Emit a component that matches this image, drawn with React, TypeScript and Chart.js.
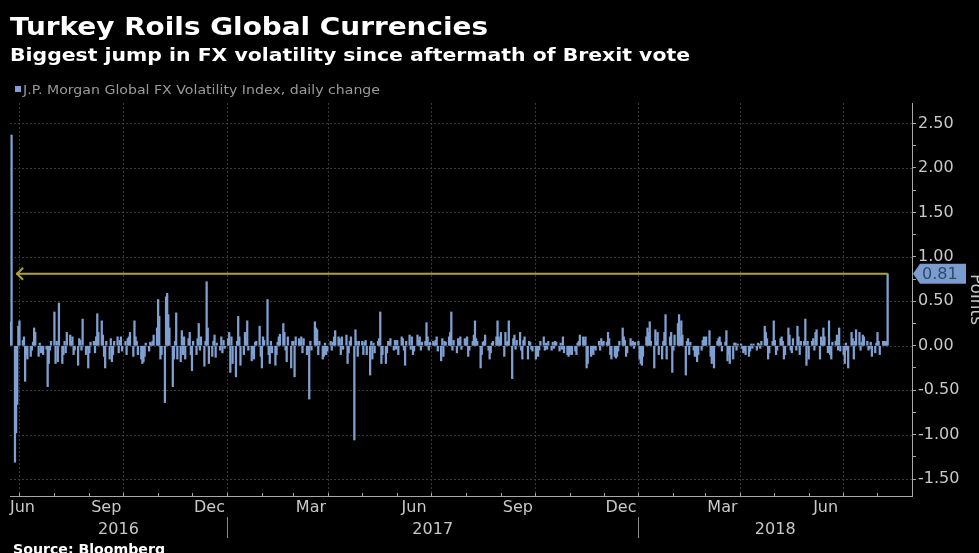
import React, { useEffect, useRef } from 'react';
import { Chart, registerables } from 'chart.js';

Chart.register(...registerables);

// ---------- text ----------
const TITLE = 'Turkey Roils Global Currencies';
const SUBTITLE = 'Biggest jump in FX volatility since aftermath of Brexit vote';
const LEGEND_LABEL = 'J.P. Morgan Global FX Volatility Index, daily change';
const SOURCE = 'Source: Bloomberg';
const Y_TITLE = 'Points';

// ---------- data: daily change, one array per month (weekdays in order) ----------
const SERIES_START = '2016-06-23';
const MONTHS = [
  '2016-06', '2016-07', '2016-08', '2016-09', '2016-10', '2016-11', '2016-12',
  '2017-01', '2017-02', '2017-03', '2017-04', '2017-05', '2017-06', '2017-07',
  '2017-08', '2017-09', '2017-10', '2017-11', '2017-12', '2018-01', '2018-02',
  '2018-03', '2018-04', '2018-05', '2018-06', '2018-07', '2018-08',
];
const jun16 = [0.27, 2.37, -1.31, -0.98, -0.66, 0.22];
const jul16 = [0.28, 0.06, 0.1, -0.4, -0.1, -0.15, -0.12, -0.05, 0.04, 0.2, 0.15, -0.12, 0.03, -0.08, -0.06, -0.1, -0.04, -0.46, -0.2, -0.05, 0.05];
const aug16 = [0.38, -0.2, 0.05, -0.18, 0.48, -0.2, -0.1, 0.05, -0.08, 0.15, 0.12, 0.05, 0.1, -0.1, -0.05, -0.22, 0.08, 0.06, -0.05, 0.3, -0.1, -0.03, -0.25];
const sep16 = [-0.08, 0.04, 0.05, -0.08, 0.1, 0.36, 0.15, 0.28, 0.12, -0.12, -0.25, 0.05, -0.15, 0.08, -0.18, -0.1, 0.05, 0.1, -0.08, 0.06, 0.1, -0.06];
const oct16 = [0.05, -0.1, 0.08, 0.1, 0.15, -0.12, 0.28, 0.1, 0.05, -0.1, -0.15, -0.2, -0.18, -0.12, 0.03, -0.06, 0.04, 0.02, 0.05, 0.12, 0.2];
const nov16 = [0.52, 0.33, -0.15, -0.1, -0.64, 0.55, 0.59, 0.35, 0.2, -0.46, -0.15, 0.05, 0.37, -0.15, -0.18, 0.17, -0.1, 0.1, -0.15, 0.08, 0.15, -0.1];
const dec16 = [-0.28, 0.05, -0.1, 0.08, 0.25, -0.05, 0.1, -0.23, 0.05, 0.72, 0.2, -0.2, -0.12, 0.05, 0.12, -0.13, 0.03, -0.05, 0.1, -0.08, 0.06, -0.03];
const jan17 = [0.08, 0.15, -0.3, 0.1, -0.2, -0.35, 0.05, 0.33, 0.1, -0.22, -0.1, 0.15, 0.05, 0.28, -0.05, -0.17, -0.1, -0.15, 0.04, 0.05, 0.22, -0.12];
const feb17 = [-0.25, 0.1, 0.06, 0.52, -0.1, -0.2, 0.05, -0.08, -0.22, -0.1, 0.04, 0.1, 0.13, 0.25, 0.15, -0.05, -0.18, 0.1, -0.25, 0.05];
const mar17 = [0.05, -0.35, 0.1, 0.08, 0.05, 0.1, -0.08, 0.08, -0.1, -0.05, -0.6, 0.05, -0.05, 0.27, 0.2, 0.18, -0.1, 0.05, -0.15, -0.12, 0.03, -0.1, -0.06];
const apr17 = [0.05, -0.05, 0.04, 0.1, 0.17, 0.1, 0.08, -0.1, 0.1, -0.04, 0.12, -0.2, -0.08, 0.05, 0.1, -1.06, 0.18, 0.05, -0.12, 0.05];
const may17 = [0.05, -0.1, 0.04, 0.06, -0.1, -0.33, 0.05, -0.15, 0.03, -0.08, 0.05, 0.08, 0.38, -0.2, -0.1, -0.2, -0.08, 0.05, 0.04, 0.08, -0.05, 0.06, -0.04];
const jun17 = [0.06, -0.1, 0.1, 0.08, -0.05, -0.22, 0.05, 0.12, -0.04, 0.1, -0.1, -0.06, 0.12, 0.06, 0.1, -0.05, 0.04, 0.05, 0.26, 0.1, -0.05, 0.04];
const jul17 = [0.05, 0.03, 0.06, 0.1, -0.06, -0.17, 0.08, -0.12, 0.05, 0.04, 0.1, 0.15, 0.38, -0.05, 0.06, -0.08, 0.08, 0.05, 0.1, -0.04, 0.08];
const aug17 = [0.06, 0.1, -0.12, -0.05, 0.05, 0.12, 0.28, 0.08, 0.05, -0.25, -0.1, 0.04, 0.05, 0.12, -0.05, -0.15, -0.08, 0.03, 0.05, 0.1, 0.28, 0.1, 0.06];
const sep17 = [0.15, -0.12, 0.15, 0.04, 0.05, 0.28, -0.37, 0.08, 0.12, -0.04, 0.06, 0.15, -0.05, -0.15, 0.06, 0.1, -0.15, 0.05, 0.04, -0.04, -0.06];
const oct17 = [-0.15, -0.1, -0.12, -0.05, 0.05, 0.1, -0.05, 0.03, -0.04, 0.05, -0.05, 0.04, -0.03, 0.05, 0.04, -0.06, 0.03, -0.04, 0.1, -0.08, -0.1, -0.12];
const nov17 = [-0.1, -0.08, -0.1, -0.06, -0.1, 0.03, 0.05, 0.12, 0.1, 0.06, 0.1, -0.25, -0.2, -0.12, -0.08, -0.1, -0.03, -0.05, 0.05, -0.05, 0.08, 0.04];
const dec17 = [0.05, 0.04, 0.15, 0.08, -0.1, -0.15, -0.12, -0.14, -0.12, -0.06, 0.05, 0.2, 0.1, 0.06, -0.12, -0.08, 0.08, 0.03, 0.05, -0.03, 0.04];
const jan18 = [0.05, -0.15, -0.2, -0.22, -0.12, 0.1, 0.2, 0.15, 0.27, 0.05, -0.25, 0.18, 0.05, 0.15, -0.1, -0.15, 0.05, 0.15, 0.35, -0.15, 0.1, 0.15, -0.3];
const feb18 = [-0.05, 0.12, 0.25, 0.35, 0.1, 0.28, 0.12, -0.33, 0.05, 0.08, -0.1, 0.04, -0.05, -0.12, -0.08, -0.18, -0.1, -0.05, 0.06, 0.1];
const mar18 = [0.06, 0.1, 0.17, -0.12, -0.2, -0.15, -0.25, 0.05, 0.08, 0.1, 0.04, -0.06, 0.04, 0.17, -0.17, -0.1, -0.2, -0.15, 0.03, 0.03, -0.05, 0.02];
const apr18 = [0.02, -0.03, -0.08, -0.06, -0.1, -0.12, -0.06, 0.02, -0.03, 0.02, -0.05, 0.03, 0.02, -0.03, 0.05, 0.22, 0.15, 0.08, -0.15, -0.08, 0.05];
const may18 = [0.28, 0.06, -0.1, -0.05, 0.08, 0.1, 0.05, -0.15, -0.1, 0.2, 0.12, -0.05, -0.08, 0.08, -0.05, 0.22, 0.1, -0.1, 0.05, 0.05, 0.3, -0.22, 0.05];
const jun18 = [-0.15, 0.05, 0.08, -0.05, 0.15, 0.18, -0.15, 0.1, 0.05, 0.2, 0.1, -0.08, 0.28, -0.1, -0.15, 0.04, 0.05, 0.12, -0.05, 0.2, -0.06];
const jul18 = [-0.1, -0.2, 0.03, -0.05, -0.25, 0.15, 0.08, -0.15, 0.05, 0.18, 0.15, -0.05, 0.04, 0.12, 0.1, 0.05, -0.05, -0.03, 0.04, -0.12, -0.08, 0.03];
const aug18 = [0.15, 0.05, -0.1, 0.05, 0.05, 0.04, 0.05, 0.81];
const MONTHLY_VALUES = [
  jun16, jul16, aug16, sep16, oct16, nov16, dec16,
  jan17, feb17, mar17, apr17, may17, jun17, jul17,
  aug17, sep17, oct17, nov17, dec17, jan18, feb18,
  mar18, apr18, may18, jun18, jul18, aug18,
];

// ---------- axes ----------
const Y_MIN = -1.69;
const Y_MAX = 2.73;
const Y_TICK_VALUES = [-1.5, -1.25, -1, -0.75, -0.5, -0.25, 0, 0.25, 0.5, 0.75, 1, 1.25, 1.5, 1.75, 2, 2.25, 2.5];
const X_AXIS_START = '2016-06-22';
const X_AXIS_END = '2018-08-31';
const X_AXIS_SHIFT = 0.6;
const MONTH_LABELS = ['Jun', 'Sep', 'Dec', 'Mar', 'Jun', 'Sep', 'Dec', 'Mar', 'Jun'];
const MONTH_LABEL_KEYS = ['2016-06', '2016-09', '2016-12', '2017-03', '2017-06', '2017-09', '2017-12', '2018-03', '2018-06'];
const YEAR_LABELS = ['2016', '2017', '2018'];
const GRID_MONTHS = ['2016-07', '2016-10', '2017-01', '2017-04', '2017-07', '2017-10', '2018-01', '2018-04', '2018-07'];
const ARROW_FROM = '2016-06-28';

// ---------- style ----------
const BAR_COLOR = '#7fa0d0';
const GRID_COLOR = '#3a3a3a';
const AXIS_COLOR = '#a8a8a8';
const LABEL_COLOR = '#c8c8c8';
const ARROW_COLOR = '#b3a22c';
const FONT = '"DejaVu Sans", Verdana, sans-serif';

function dayOf(key: string): number {
  const [y, m, d] = key.split('-').map(Number);
  return Date.UTC(y, m - 1, d || 1) / 864e5;
}

function nextMonthKey(key: string): string {
  const [y, m] = key.split('-').map(Number);
  return m === 12 ? `${y + 1}-01` : `${y}-${String(m + 1).padStart(2, '0')}`;
}

function buildPoints() {
  const pts: { x: number; y: number }[] = [];
  MONTHS.forEach((key, i) => {
    const [y, m] = key.split('-').map(Number);
    const vals = MONTHLY_VALUES[i];
    let d = i === 0 ? Number(SERIES_START.split('-')[2]) : 1;
    let k = 0;
    while (k < vals.length) {
      const t = Date.UTC(y, m - 1, d);
      const dt = new Date(t);
      if (dt.getUTCMonth() !== m - 1) break;
      const wd = dt.getUTCDay();
      if (wd !== 0 && wd !== 6) {
        pts.push({ x: t / 864e5, y: vals[k] });
        k++;
      }
      d++;
    }
  });
  return pts;
}

function drawFitted(ctx: CanvasRenderingContext2D, text: string, x: number, y: number, font: string, color: string, width?: number) {
  ctx.save();
  ctx.font = font;
  ctx.fillStyle = color;
  ctx.textAlign = 'left';
  ctx.textBaseline = 'alphabetic';
  const w = ctx.measureText(text).width;
  ctx.translate(x, y);
  if (width) ctx.scale(width / w, 1);
  ctx.fillText(text, 0, 0);
  ctx.restore();
}

export default function App() {
  const ref = useRef<HTMLCanvasElement>(null);

  useEffect(() => {
    const canvas = ref.current;
    if (!canvas) return;
    const points = buildPoints();
    const last = points[points.length - 1];

    const decor = {
      id: 'decor',
      beforeDraw(chart: any) {
        const { ctx, width, height, chartArea } = chart;
        const { left, right, top, bottom } = chartArea;
        const xs = chart.scales.x;
        const ys = chart.scales.y;
        ctx.save();
        ctx.fillStyle = '#000';
        ctx.fillRect(0, 0, width, height);
        ctx.strokeStyle = GRID_COLOR;
        ctx.lineWidth = 1;
        ctx.setLineDash([2, 2]);
        ctx.beginPath();
        Y_TICK_VALUES.filter((v) => Math.abs(v * 2 - Math.round(v * 2)) < 1e-9).forEach((v) => {
          const py = Math.round(ys.getPixelForValue(v)) + 0.5;
          ctx.moveTo(left, py);
          ctx.lineTo(right, py);
        });
        GRID_MONTHS.forEach((k) => {
          const px = Math.round(xs.getPixelForValue(dayOf(k))) + 0.5;
          ctx.moveTo(px, top);
          ctx.lineTo(px, bottom);
        });
        ctx.stroke();
        ctx.restore();
      },
      afterDatasetsDraw(chart: any) {
        const { ctx } = chart;
        const xs = chart.scales.x;
        const ys = chart.scales.y;
        const yv = ys.getPixelForValue(last.y);
        const x0 = xs.getPixelForValue(dayOf(ARROW_FROM));
        const x1 = xs.getPixelForValue(last.x);
        ctx.save();
        ctx.strokeStyle = ARROW_COLOR;
        ctx.lineWidth = 2;
        ctx.beginPath();
        ctx.moveTo(x0, yv);
        ctx.lineTo(x1, yv);
        ctx.stroke();
        ctx.beginPath();
        ctx.moveTo(x0 + 7, yv - 6);
        ctx.lineTo(x0 + 1, yv);
        ctx.lineTo(x0 + 7, yv + 6);
        ctx.stroke();
        ctx.restore();
      },
      afterDraw(chart: any) {
        const { ctx, chartArea } = chart;
        const { left, right, bottom } = chartArea;
        const xs = chart.scales.x;
        const ys = chart.scales.y;
        ctx.save();
        // x axis line
        ctx.strokeStyle = AXIS_COLOR;
        ctx.lineWidth = 1;
        ctx.beginPath();
        ctx.moveTo(left, bottom + 0.5);
        ctx.lineTo(right, bottom + 0.5);
        // monthly ticks
        let mk = '2016-07';
        while (dayOf(mk) < xs.max) {
          const px = Math.round(xs.getPixelForValue(dayOf(mk))) + 0.5;
          ctx.moveTo(px, bottom - 3);
          ctx.lineTo(px, bottom);
          mk = nextMonthKey(mk);
        }
        ctx.stroke();
        // month labels
        ctx.font = `16px ${FONT}`;
        ctx.fillStyle = LABEL_COLOR;
        ctx.textBaseline = 'middle';
        ctx.textAlign = 'center';
        MONTH_LABEL_KEYS.forEach((k, i) => {
          const mid = (dayOf(k) + dayOf(nextMonthKey(k))) / 2;
          let px = xs.getPixelForValue(mid);
          const w = ctx.measureText(MONTH_LABELS[i]).width;
          px = Math.max(px, left + w / 2);
          ctx.fillText(MONTH_LABELS[i], px, bottom + 12);
        });
        // year labels and separators
        ctx.strokeStyle = '#8a8a8a';
        ctx.beginPath();
        YEAR_LABELS.forEach((yl) => {
          const a = Math.max(left, xs.getPixelForValue(dayOf(`${yl}-01-01`)));
          const b = Math.min(right, xs.getPixelForValue(dayOf(`${Number(yl) + 1}-01-01`)));
          ctx.fillText(yl, (a + b) / 2, bottom + 34);
          if (a > left) {
            const sx = Math.round(a) + 0.5;
            ctx.moveTo(sx, bottom + 21);
            ctx.lineTo(sx, bottom + 42);
          }
        });
        ctx.stroke();
        // value box
        const yv = ys.getPixelForValue(last.y);
        ctx.fillStyle = '#7a9cce';
        ctx.beginPath();
        ctx.moveTo(right + 1, yv);
        ctx.lineTo(right + 8, yv - 10);
        ctx.lineTo(right + 54, yv - 10);
        ctx.lineTo(right + 54, yv + 10);
        ctx.lineTo(right + 8, yv + 10);
        ctx.closePath();
        ctx.fill();
        ctx.fillStyle = '#34476a';
        ctx.textAlign = 'left';
        ctx.textBaseline = 'middle';
        ctx.font = `16px ${FONT}`;
        ctx.fillText(last.y.toFixed(2), right + 10, yv + 1);
        // legend marker
        ctx.fillStyle = BAR_COLOR;
        ctx.fillRect(15, 86, 6, 6);
        ctx.restore();
        // headers
        drawFitted(ctx, TITLE, 10, 35, `bold 24px ${FONT}`, '#ffffff', 478);
        drawFitted(ctx, SUBTITLE, 10, 60.5, `bold 18px ${FONT}`, '#ffffff', 680);
        drawFitted(ctx, LEGEND_LABEL, 23, 94, `12.5px ${FONT}`, '#9a9a9a', 357);
        drawFitted(ctx, SOURCE, 13, 553.5, `bold 14px ${FONT}`, '#ffffff', 152);
      },
    };

    const chart = new Chart(canvas, {
      type: 'bar',
      data: {
        datasets: [
          {
            label: LEGEND_LABEL,
            data: points,
            backgroundColor: BAR_COLOR,
            borderWidth: 0,
            barThickness: 1.6,
          },
        ],
      },
      options: {
        animation: false,
        responsive: false,
        maintainAspectRatio: false,
        layout: { padding: { left: 10, top: 103, right: 0, bottom: 57 } },
        plugins: {
          legend: { display: false },
          tooltip: { enabled: false },
          title: { display: false },
        },
        scales: {
          x: {
            type: 'linear',
            display: false,
            offset: false,
            min: dayOf(X_AXIS_START) + X_AXIS_SHIFT,
            max: dayOf(X_AXIS_END) + X_AXIS_SHIFT,
          },
          y: {
            type: 'linear',
            position: 'right',
            min: Y_MIN,
            max: Y_MAX,
            afterFit: (s: any) => {
              s.width = 67;
            },
            afterBuildTicks: (s: any) => {
              s.ticks = Y_TICK_VALUES.map((v) => ({ value: v }));
            },
            ticks: {
              autoSkip: false,
              color: LABEL_COLOR,
              padding: 2,
              font: { family: FONT, size: 16 },
              callback: (v: any) => {
                const n = Number(v);
                return Math.abs(n * 2 - Math.round(n * 2)) < 1e-9 ? n.toFixed(2) : '';
              },
            },
            grid: {
              drawOnChartArea: false,
              drawTicks: true,
              tickLength: 4,
              tickColor: AXIS_COLOR,
            },
            border: { display: true, color: AXIS_COLOR, width: 1 },
            title: {
              display: true,
              text: Y_TITLE,
              color: LABEL_COLOR,
              font: { family: FONT, size: 17 },
              padding: { top: -7, bottom: 0 },
            },
          },
        },
      },
      plugins: [decor],
    } as any);

    return () => chart.destroy();
  }, []);

  return (
    <div style={{ position: 'fixed', left: 0, top: 0, width: 979, height: 553, background: '#000' }}>
      <canvas ref={ref} width={979} height={553} style={{ display: 'block', width: 979, height: 553 }} />
    </div>
  );
}
